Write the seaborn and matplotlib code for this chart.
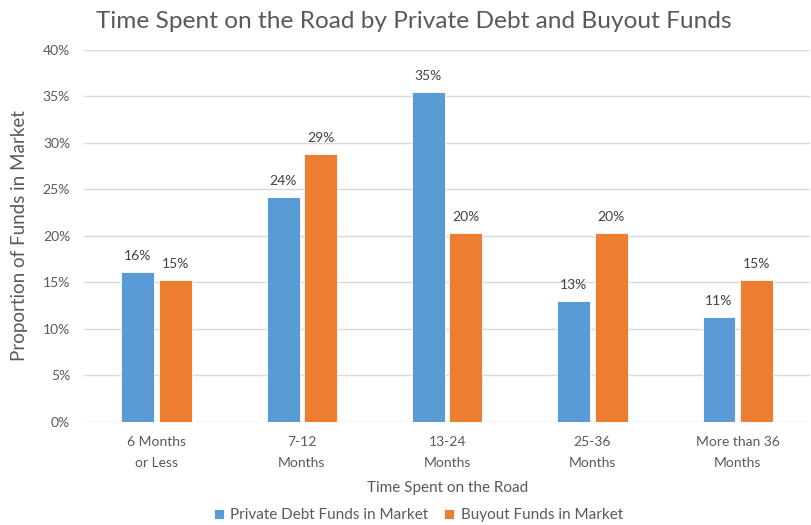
import matplotlib
matplotlib.use("Agg")
import matplotlib.pyplot as plt
import seaborn as sns
import pandas as pd

categories = ["6 Months\nor Less", "7-12\nMonths", "13-24\nMonths", "25-36\nMonths", "More than 36\nMonths"]
private_debt = [16.1, 24.2, 35.5, 13.0, 11.3]
buyout = [15.3, 28.8, 20.3, 20.3, 15.3]
pd_labels = ["16%", "24%", "35%", "13%", "11%"]
bo_labels = ["15%", "29%", "20%", "20%", "15%"]
series_names = ["Private Debt Funds in Market", "Buyout Funds in Market"]
yticks = [0, 5, 10, 15, 20, 25, 30, 35, 40]

sns.set_theme(style="white")
plt.rcParams['font.family'] = ['Lato', 'DejaVu Sans']

df = pd.DataFrame({
    "cat": categories * 2,
    "val": private_debt + buyout,
    "series": [series_names[0]] * 5 + [series_names[1]] * 5,
})

fig = plt.figure(figsize=(8.12, 5.25), dpi=100)
ax = fig.add_axes([0.1034, 0.1968, 0.8946, 0.708])

grid_c = "#D9D9D9"
for t in yticks:
    ax.axhline(t, color=grid_c, lw=1.0, zorder=0)

sns.barplot(data=df, x="cat", y="val", hue="series", order=categories,
            hue_order=series_names, palette=["#5B9BD5", "#ED7D31"],
            saturation=1, width=0.515, gap=0.12, ax=ax, edgecolor="white",
            linewidth=0.6, zorder=2, legend=True)

txt_c = "#595959"
for cont, labs in zip(ax.containers, [pd_labels, bo_labels]):
    ax.bar_label(cont, labels=labs, padding=7, fontsize=10, color="#404040")

ax.set_ylim(0, 40)
ax.set_xlim(-0.5, 4.5)
ax.set_yticks(yticks)
ax.set_yticklabels([f"{t}%" for t in yticks], fontsize=10, color=txt_c)
ax.tick_params(axis="x", labelsize=10, labelcolor=txt_c, length=0, pad=10)
ax.tick_params(axis="y", length=0, pad=10)
for lab in ax.get_xticklabels():
    lab.set_linespacing(1.9)
for s in ax.spines.values():
    s.set_visible(False)

ax.set_xlabel("Time Spent on the Road", fontsize=11, color=txt_c, labelpad=9)
ax.set_ylabel("Proportion of Funds in Market", fontsize=13.5, color=txt_c)
ax.yaxis.set_label_coords(-0.077, 0.5)

fig.suptitle("Time Spent on the Road by Private Debt and Buyout Funds",
             x=0.51, y=0.98, fontsize=17.6, color=txt_c)

leg = ax.legend(loc="center", bbox_to_anchor=(0.46, -0.252), ncol=2,
                frameon=False, fontsize=11, handlelength=0.7, handleheight=0.7,
                columnspacing=1.0, handletextpad=0.4, borderpad=0.1)
for t in leg.get_texts():
    t.set_color(txt_c)

fig.savefig("out.png", dpi=100, facecolor="white")
